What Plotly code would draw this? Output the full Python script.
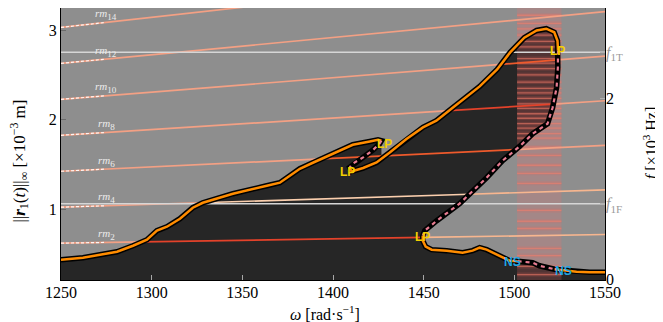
import math
import numpy as np
import plotly.graph_objects as go

# ---------------- axis limits / ticks ----------------
OMEGA_RANGE = [1250, 1550]
AMP_RANGE = [0.207, 3.246]      # ||r1(t)||_inf  [x10^-3 m]
FREQ_RANGE = [-0.01, 3.0]       # f  [x10^3 Hz]

omega_ticks = [1250, 1300, 1350, 1400, 1450, 1500, 1550]
amp_ticks = [1, 2, 3]
freq_ticks = [0, 2]

# natural frequencies [x10^3 Hz]
f_1F = 0.833
f_1T = 2.511

# ---------------- frequency response curve ----------------
# A: stable, from 1250 up to the small fold (LP)
a_omega = [1250.0, 1262.1, 1271.5, 1280.9, 1289.7, 1297.4, 1302.9, 1308.4, 1315.6, 1322.7,
           1328.2, 1337.6, 1344.8, 1363.5, 1370.7, 1376.2, 1381.7, 1388.9, 1399.9, 1410.9,
           1420.3, 1424.8, 1426.7]
a_amp = [0.434, 0.456, 0.489, 0.523, 0.590, 0.657, 0.758, 0.802, 0.892, 1.015,
         1.070, 1.126, 1.171, 1.260, 1.294, 1.372, 1.450, 1.517, 1.618, 1.718,
         1.755, 1.774, 1.763]
# U1: unstable, small fold back
u1_omega = [1426.7, 1425.8, 1422.1, 1416.6, 1411.1, 1409.2]
u1_amp = [1.763, 1.733, 1.660, 1.577, 1.510, 1.465]
# B: stable, up to the main fold
b_omega = [1409.2, 1410.2, 1416.6, 1424.0, 1431.3, 1440.5, 1449.6, 1457.0, 1466.0, 1480.9,
           1490.5, 1497.7, 1505.5, 1512.3, 1517.6, 1522.0, 1523.8, 1524.1]
b_amp = [1.465, 1.420, 1.458, 1.520, 1.632, 1.782, 1.912, 1.987, 2.132, 2.370,
         2.560, 2.750, 2.914, 2.995, 3.015, 2.975, 2.880, 2.770]
# C: unstable, back down
c_omega = [1524.1, 1524.0, 1523.3, 1521.1, 1518.3, 1514.5, 1510.1, 1502.9, 1493.5, 1484.7,
           1469.8, 1457.2, 1450.6, 1449.5]
c_amp = [2.770, 2.578, 2.355, 2.132, 1.953, 1.905, 1.841, 1.700, 1.540, 1.350,
         1.060, 0.869, 0.758, 0.702]
# D: stable lower branch up to NS
d_omega = [1449.5, 1449.5, 1451.1, 1454.4, 1462.7, 1471.5, 1477.0, 1480.9, 1484.7, 1488.0,
           1493.5, 1497.4, 1501.8]
d_amp = [0.702, 0.647, 0.580, 0.546, 0.535, 0.512, 0.535, 0.568, 0.546, 0.512,
         0.456, 0.423, 0.417]
# E: unstable between the NS points
e_omega = [1501.8, 1506.2, 1510.1, 1513.9, 1517.8, 1522.2]
e_amp = [0.417, 0.411, 0.400, 0.366, 0.344, 0.327]
# F: stable to the end
g_omega = [1522.2, 1527.7, 1534.3, 1541.5, 1550.0]
g_amp = [0.327, 0.316, 0.299, 0.294, 0.294]

# bifurcation labels
lp_omega = [1428.4, 1407.9, 1523.7, 1449.2]
lp_amp = [1.723, 1.409, 2.763, 0.683]
ns_omega = [1499.2, 1527.2]
ns_amp = [0.403, 0.311]

# ---------------- spectrogram-like content ----------------
rm_orders = [2, 4, 6, 8, 10, 12, 14]
rm_breaks = [[1250, 1295, 1449.5, 1550], [1250, 1327, 1475, 1550], [1250, 1393.5, 1500.5, 1550],
             [1250, 1464, 1521.5, 1550], [1250, 1492.5, 1524, 1550], [1250, 1550], [1250, 1550]]
rm_tones = [["g", "d", "p"], ["g", "w", "p"], ["g", "o", "g"], ["g", "d", "g"], ["g", "o", "g"],
            ["g"], ["g"]]
rm_label_omega = 1275
rm_guide_end = 1274

qp_band = [1501.5, 1526.0]
streak_f = [2.92, 2.83, 2.77, 2.70, 2.63, 2.57, 2.44, 2.39, 2.33, 2.26, 2.18, 2.11, 2.06, 2.00,
            1.94, 1.89, 1.83, 1.78, 1.72, 1.67, 1.61, 1.56, 1.46, 1.37, 1.26, 1.17, 1.06, 0.76,
            0.64, 0.56, 0.34, 0.26, 0.14, 0.05]

# ---------------- styles ----------------
TONE = {"g": "#f3a084", "d": "#e4422a", "o": "#ee5a2c", "w": "#fbcfae", "p": "#f7b68f"}
SERIF = "Liberation Serif"
SANS = "Liberation Sans"


def freq_to_amp(f):
    return AMP_RANGE[0] + (f - FREQ_RANGE[0]) * (AMP_RANGE[1] - AMP_RANGE[0]) / (FREQ_RANGE[1] - FREQ_RANGE[0])


def rm_freq(order, omega):
    return order * omega / (2 * math.pi) / 1000.0


fig = go.Figure()

# dark region under the response curve
tip = a_omega[-1]
b_at_tip = float(np.interp(tip, b_omega[1:], b_amp[1:]))
fill_x = a_omega + [tip] + [w for w in b_omega if w > tip] + c_omega[1:] + d_omega[1:] + e_omega[1:] + g_omega[1:] \
    + [OMEGA_RANGE[1], OMEGA_RANGE[0]]
fill_y = a_amp + [b_at_tip] + [a for w, a in zip(b_omega, b_amp) if w > tip] + c_amp[1:] + d_amp[1:] + e_amp[1:] \
    + g_amp[1:] + [AMP_RANGE[0] - 0.1, AMP_RANGE[0] - 0.1]
fig.add_trace(go.Scatter(x=fill_x, y=fill_y, mode="lines", fill="toself", fillcolor="#262626",
                         line=dict(width=0), hoverinfo="skip"))

# quasi-periodic band
fig.add_trace(go.Scatter(x=[qp_band[0], qp_band[1], qp_band[1], qp_band[0]],
                         y=[AMP_RANGE[0] - 0.1, AMP_RANGE[0] - 0.1, AMP_RANGE[1] + 0.1, AMP_RANGE[1] + 0.1],
                         mode="lines", fill="toself", fillcolor="rgba(255,110,110,0.2)",
                         line=dict(width=0), hoverinfo="skip"))
sx, sy = [], []
for f in streak_f:
    sx += [qp_band[0], qp_band[1], None]
    sy += [freq_to_amp(f), freq_to_amp(f), None]
fig.add_trace(go.Scatter(x=sx, y=sy, mode="lines", line=dict(color="rgba(240,100,90,0.18)", width=4),
                         hoverinfo="skip"))
fig.add_trace(go.Scatter(x=sx, y=sy, mode="lines", line=dict(color="rgba(245,125,105,0.55)", width=1.3),
                         hoverinfo="skip"))

# rotor harmonic lines
for k, brk, tones in zip(rm_orders, rm_breaks, rm_tones):
    for i, t in enumerate(tones):
        w0, w1 = brk[i], brk[i + 1]
        fig.add_trace(go.Scatter(x=[w0, w1], y=[freq_to_amp(rm_freq(k, w0)), freq_to_amp(rm_freq(k, w1))],
                                 mode="lines", line=dict(color=TONE[t], width=1.7), hoverinfo="skip"))
    fig.add_trace(go.Scatter(x=[OMEGA_RANGE[0], rm_guide_end],
                             y=[freq_to_amp(rm_freq(k, OMEGA_RANGE[0])), freq_to_amp(rm_freq(k, rm_guide_end))],
                             mode="lines", line=dict(color="rgba(255,255,255,0.9)", width=1.2, dash="3px,2px"),
                             hoverinfo="skip"))

# natural frequency lines
for fn in [f_1F, f_1T]:
    fig.add_trace(go.Scatter(x=OMEGA_RANGE, y=[freq_to_amp(fn)] * 2, mode="lines",
                             line=dict(color="#d6d6d6", width=1.6), hoverinfo="skip"))

# response curve: black outline
curve_x = a_omega + u1_omega[1:] + b_omega[1:] + c_omega[1:] + d_omega[1:] + e_omega[1:] + g_omega[1:]
curve_y = a_amp + u1_amp[1:] + b_amp[1:] + c_amp[1:] + d_amp[1:] + e_amp[1:] + g_amp[1:]
fig.add_trace(go.Scatter(x=curve_x, y=curve_y, mode="lines", line=dict(color="black", width=5.5),
                         hoverinfo="skip"))
for xs, ys in [(a_omega, a_amp), (b_omega, b_amp), (d_omega, d_amp), (g_omega, g_amp)]:
    fig.add_trace(go.Scatter(x=xs, y=ys, mode="lines", line=dict(color="#ff8c00", width=2.5),
                             hoverinfo="skip"))
for xs, ys in [(u1_omega, u1_amp), (c_omega, c_amp), (e_omega, e_amp)]:
    fig.add_trace(go.Scatter(x=xs, y=ys, mode="lines", line=dict(color="#e87c92", width=2.2, dash="4px,4px"),
                             hoverinfo="skip"))

# dummy trace for the right axis
fig.add_trace(go.Scatter(x=[None], y=[None], yaxis="y2", hoverinfo="skip"))

ann = []
for w, a in zip(lp_omega, lp_amp):
    ann.append(dict(x=w, y=a, xref="x", yref="y", text="<b>LP</b>", showarrow=False,
                    font=dict(family=SANS, size=12, color="#f2cf00")))
for w, a in zip(ns_omega, ns_amp):
    ann.append(dict(x=w, y=a, xref="x", yref="y", text="<b>NS</b>", showarrow=False,
                    font=dict(family=SANS, size=12, color="#1ea6e6")))
for k in rm_orders:
    ann.append(dict(x=rm_label_omega, y=freq_to_amp(rm_freq(k, rm_label_omega)), xref="x", yref="y",
                    yshift=8, xanchor="center", yanchor="middle",
                    text="<span style='font-size:11px'><i>rm</i></span><sub>%d</sub>" % k,
                    showarrow=False, font=dict(family=SERIF, size=13, color="#ececec")))
# axis titles
ann.append(dict(x=0.485, y=-0.121, xref="paper", yref="paper", showarrow=False,
                xanchor="center", yanchor="middle",
                text="<i>ω</i> [rad·s<sup>−1</sup>]", font=dict(family=SERIF, size=16, color="black")))
ann.append(dict(x=-0.078, y=0.4375, xref="paper", yref="paper", showarrow=False, textangle=-90,
                xanchor="center", yanchor="middle",
                text="||<b><i>r</i></b><sub>1</sub>(<i>t</i>)||<sub>∞</sub> [×10<sup>−3</sup> m]",
                font=dict(family=SERIF, size=17, color="black")))
ann.append(dict(x=1.084, y=0.502, xref="paper", yref="paper", showarrow=False, textangle=-90,
                xanchor="center", yanchor="middle",
                text="<i>f</i> [×10<sup>3</sup> Hz]", font=dict(family=SERIF, size=16, color="black")))

gray_lbl = "<span style='color:#9a9a9a'><i>f</i><sub>1%s</sub></span>"

# the page adds an 8px body margin, so the figure is sized to fit inside the window
fig.update_layout(
    width=655, height=314,
    margin=dict(l=53, r=57.5, t=0, b=42, autoexpand=False),
    paper_bgcolor="white", plot_bgcolor="#8e8e8e",
    showlegend=False,
    annotations=ann,
    xaxis=dict(range=OMEGA_RANGE, tickvals=omega_ticks, ticks="inside", ticklen=5, tickcolor="#a8a8a8",
               showline=True, linecolor="black", linewidth=1, mirror=True, showgrid=False, zeroline=False,
               ticklabelstandoff=-2,
               tickfont=dict(family=SERIF, size=16, color="black")),
    yaxis=dict(range=AMP_RANGE, tickvals=amp_ticks, ticks="inside", ticklen=5, tickcolor="#6a6a6a",
               showline=True, linecolor="black", linewidth=1, mirror=True, showgrid=False, zeroline=False,
               tickfont=dict(family=SERIF, size=16, color="black")),
    yaxis2=dict(range=FREQ_RANGE, overlaying="y", side="right", anchor="x",
                tickvals=freq_ticks + [f_1F, f_1T],
                ticktext=[str(v) for v in freq_ticks] + [gray_lbl % "F", gray_lbl % "T"],
                ticks="inside", ticklen=5, tickcolor="#b0b0b0", showline=False, showgrid=False, zeroline=False,
                tickfont=dict(family=SERIF, size=16, color="black")),
)

fig.write_html("out.html")
